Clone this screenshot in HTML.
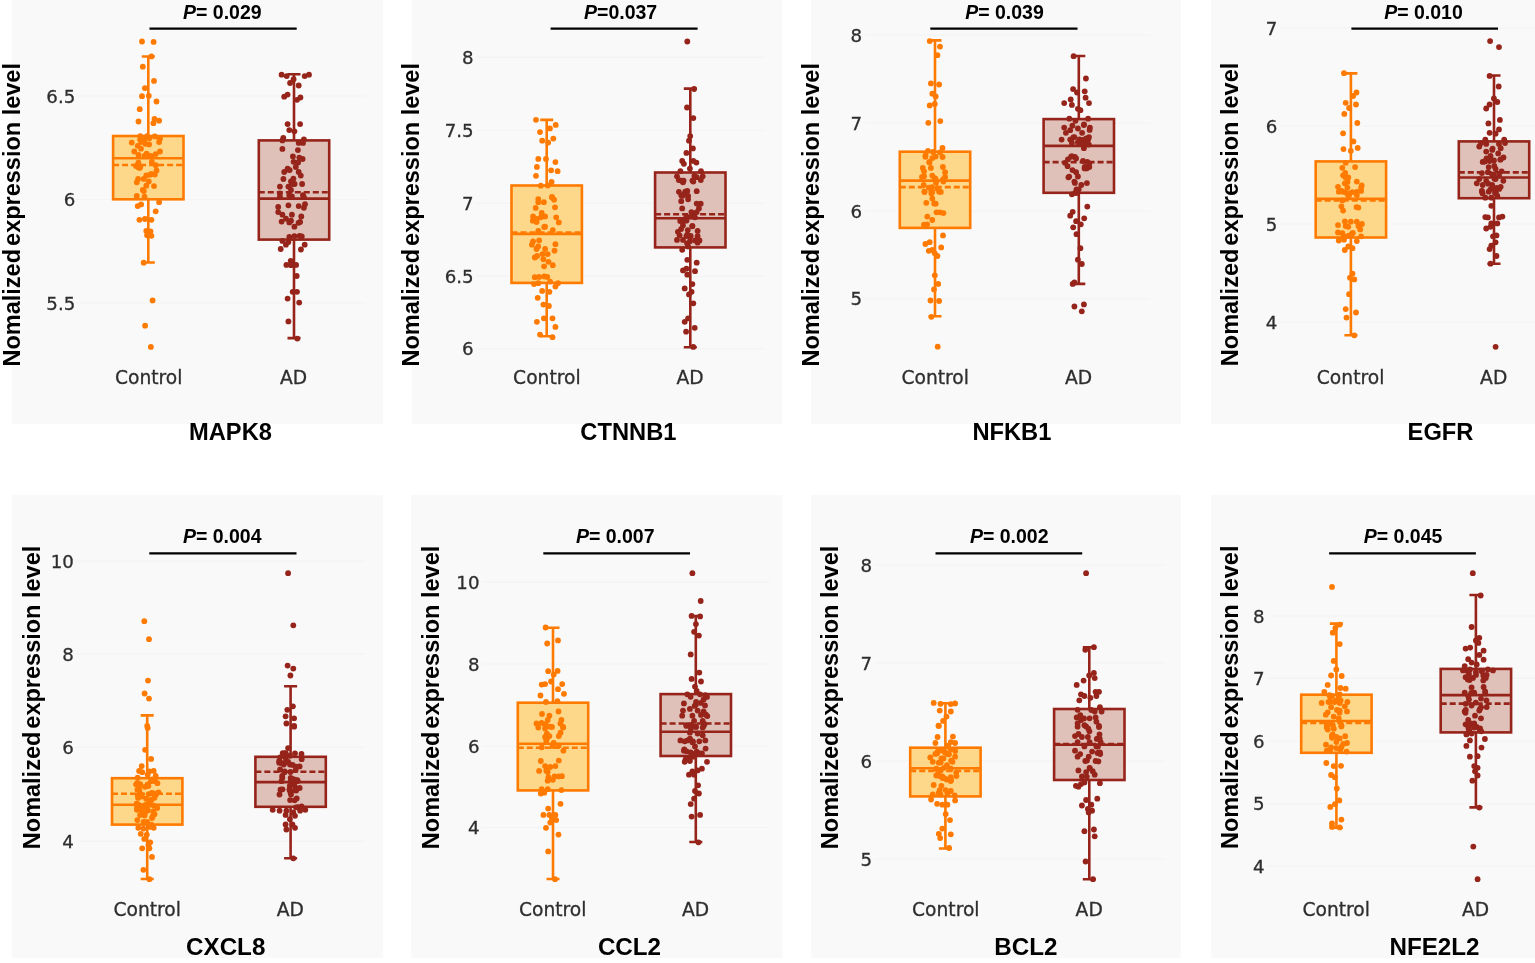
<!DOCTYPE html>
<html lang="en"><head><meta charset="utf-8"><title>Normalized expression level box plots</title>
<style>html,body{margin:0;padding:0;background:#fff}svg{display:block}.t{font-family:"Liberation Sans",Arial,sans-serif;font-weight:bold;fill:#000}.k{font-family:"DejaVu Sans",Verdana,sans-serif;font-size:18.7px;fill:#2e2e2e;stroke:#2e2e2e;stroke-width:.3px}.y{font-size:18.2px}</style></head><body>
<svg width="1535" height="963" viewBox="0 0 1535 963">
<rect width="1535" height="963" fill="#fff"/>
<g>
<rect x="12" y="0" width="371" height="424" fill="#f9f9f9"/>
<line x1="76" x2="366" y1="96.2" y2="96.2" stroke="#f4f4f4" stroke-width="1.2"/>
<line x1="76" x2="366" y1="199.5" y2="199.5" stroke="#f4f4f4" stroke-width="1.2"/>
<line x1="76" x2="366" y1="302.9" y2="302.9" stroke="#f4f4f4" stroke-width="1.2"/>
<text class="k y" x="75.3" y="102.9" text-anchor="end">6.5</text>
<text class="k y" x="75.3" y="206.2" text-anchor="end">6</text>
<text class="k y" x="75.3" y="309.6" text-anchor="end">5.5</text>
<g stroke="#ff7a00" stroke-width="2.6" fill="none">
<path d="M148.3 56.5V136M148.3 199.3V262.5M141.8 56.5H154.8M141.8 262.5H154.8"/>
<rect x="113.1" y="136" width="70.4" height="63.3" fill="#fdd88a"/>
<line x1="113.1" x2="183.5" y1="158.2" y2="158.2"/>
<line x1="113.1" x2="183.5" y1="165" y2="165" stroke-dasharray="6 3"/>
</g>
<g fill="#ff7a00"><circle cx="142" cy="41.5" r="2.9"/><circle cx="153.6" cy="41.9" r="2.9"/><circle cx="151.4" cy="56.4" r="2.9"/><circle cx="142.8" cy="66.7" r="2.9"/><circle cx="154" cy="80.9" r="2.9"/><circle cx="144.9" cy="88.1" r="2.9"/><circle cx="142" cy="96.2" r="2.9"/><circle cx="148.8" cy="95.8" r="2.9"/><circle cx="156.5" cy="101.5" r="2.9"/><circle cx="139.7" cy="109.2" r="2.9"/><circle cx="138.5" cy="121.5" r="2.9"/><circle cx="154.5" cy="118.9" r="2.9"/><circle cx="159.1" cy="120.7" r="2.9"/><circle cx="153.4" cy="123.2" r="2.9"/><circle cx="140.3" cy="136.1" r="2.9"/><circle cx="147.1" cy="136.1" r="2.9"/><circle cx="154.8" cy="136.4" r="2.9"/><circle cx="160" cy="138.6" r="2.9"/><circle cx="131.7" cy="142.6" r="2.9"/><circle cx="141.1" cy="142.1" r="2.9"/><circle cx="145.4" cy="143.8" r="2.9"/><circle cx="159.1" cy="142.1" r="2.9"/><circle cx="134.3" cy="151.5" r="2.9"/><circle cx="160" cy="151.5" r="2.9"/><circle cx="138.5" cy="154.9" r="2.9"/><circle cx="144.5" cy="155.8" r="2.9"/><circle cx="149.7" cy="155.8" r="2.9"/><circle cx="155.7" cy="154.1" r="2.9"/><circle cx="136" cy="166" r="2.9"/><circle cx="140.3" cy="166.9" r="2.9"/><circle cx="155.7" cy="165.2" r="2.9"/><circle cx="146.3" cy="175.5" r="2.9"/><circle cx="154.8" cy="174.6" r="2.9"/><circle cx="143.7" cy="178.9" r="2.9"/><circle cx="136.8" cy="182.3" r="2.9"/><circle cx="148.8" cy="181.5" r="2.9"/><circle cx="146.3" cy="185.7" r="2.9"/><circle cx="154" cy="186.1" r="2.9"/><circle cx="142.8" cy="190" r="2.9"/><circle cx="136.8" cy="196" r="2.9"/><circle cx="144.5" cy="196.7" r="2.9"/><circle cx="159.1" cy="202.2" r="2.9"/><circle cx="137.7" cy="206.1" r="2.9"/><circle cx="141.1" cy="204.4" r="2.9"/><circle cx="155.7" cy="211.3" r="2.9"/><circle cx="139.4" cy="219.8" r="2.9"/><circle cx="144.9" cy="219" r="2.9"/><circle cx="151.4" cy="219.8" r="2.9"/><circle cx="146.3" cy="231" r="2.9"/><circle cx="150.5" cy="231.3" r="2.9"/><circle cx="147.1" cy="235.3" r="2.9"/><circle cx="151.4" cy="235.8" r="2.9"/><circle cx="143.7" cy="262.7" r="2.9"/><circle cx="152.6" cy="300.4" r="2.9"/><circle cx="145.1" cy="325.7" r="2.9"/><circle cx="150.9" cy="346.9" r="2.9"/><circle cx="144.2" cy="140" r="2.9"/><circle cx="151.8" cy="162" r="2.9"/><circle cx="149.1" cy="144.4" r="2.9"/><circle cx="138.1" cy="179" r="2.9"/><circle cx="137.7" cy="145.8" r="2.9"/><circle cx="138.4" cy="162.7" r="2.9"/><circle cx="146.6" cy="153.7" r="2.9"/><circle cx="139.6" cy="167.9" r="2.9"/><circle cx="151.2" cy="156.1" r="2.9"/><circle cx="150.1" cy="174.7" r="2.9"/><circle cx="159.3" cy="137.9" r="2.9"/><circle cx="156.5" cy="170.5" r="2.9"/><circle cx="140.1" cy="139.4" r="2.9"/><circle cx="143.9" cy="191.1" r="2.9"/><circle cx="141" cy="148.7" r="2.9"/><circle cx="151.5" cy="173.8" r="2.9"/><circle cx="149.4" cy="138.3" r="2.9"/><circle cx="138.2" cy="167.3" r="2.9"/></g>
<g stroke="#96241a" stroke-width="2.6" fill="none">
<path d="M294 74.3V140.4M294 239.6V338.1M287.5 74.3H300.5M287.5 338.1H300.5"/>
<rect x="258.8" y="140.4" width="70.4" height="99.2" fill="#dfc1b9"/>
<line x1="258.8" x2="329.2" y1="198.6" y2="198.6"/>
<line x1="258.8" x2="329.2" y1="192.3" y2="192.3" stroke-dasharray="6 3"/>
</g>
<g fill="#96241a"><circle cx="281.6" cy="74.7" r="2.9"/><circle cx="286.7" cy="76.1" r="2.9"/><circle cx="304.7" cy="76.1" r="2.9"/><circle cx="309" cy="74.7" r="2.9"/><circle cx="293.6" cy="79.2" r="2.9"/><circle cx="290.1" cy="83" r="2.9"/><circle cx="298.7" cy="85.5" r="2.9"/><circle cx="284.2" cy="96.7" r="2.9"/><circle cx="287.6" cy="94.6" r="2.9"/><circle cx="297" cy="99.8" r="2.9"/><circle cx="300.4" cy="97.5" r="2.9"/><circle cx="287.6" cy="124.1" r="2.9"/><circle cx="300.1" cy="124.1" r="2.9"/><circle cx="289.3" cy="130.1" r="2.9"/><circle cx="294.4" cy="131.3" r="2.9"/><circle cx="283.3" cy="137.8" r="2.9"/><circle cx="282.4" cy="140.4" r="2.9"/><circle cx="303.9" cy="139.5" r="2.9"/><circle cx="298.7" cy="142.9" r="2.9"/><circle cx="303" cy="142.9" r="2.9"/><circle cx="282.4" cy="148.9" r="2.9"/><circle cx="297.9" cy="150.1" r="2.9"/><circle cx="293.6" cy="161.8" r="2.9"/><circle cx="287.6" cy="168.6" r="2.9"/><circle cx="284.2" cy="172" r="2.9"/><circle cx="298.7" cy="172" r="2.9"/><circle cx="291" cy="181.5" r="2.9"/><circle cx="279.9" cy="186.6" r="2.9"/><circle cx="288.4" cy="186.6" r="2.9"/><circle cx="302.1" cy="184" r="2.9"/><circle cx="291" cy="190" r="2.9"/><circle cx="279.9" cy="193.5" r="2.9"/><circle cx="289.3" cy="195.2" r="2.9"/><circle cx="303" cy="195.2" r="2.9"/><circle cx="279.9" cy="196.7" r="2.9"/><circle cx="291.9" cy="196.4" r="2.9"/><circle cx="303.9" cy="197.1" r="2.9"/><circle cx="278.2" cy="207" r="2.9"/><circle cx="288.4" cy="205.3" r="2.9"/><circle cx="298.7" cy="206.1" r="2.9"/><circle cx="303.9" cy="207.8" r="2.9"/><circle cx="278.2" cy="212.1" r="2.9"/><circle cx="282.4" cy="214.7" r="2.9"/><circle cx="291.9" cy="214.7" r="2.9"/><circle cx="301.3" cy="216.4" r="2.9"/><circle cx="281.6" cy="221.6" r="2.9"/><circle cx="291" cy="220.7" r="2.9"/><circle cx="294.4" cy="226.7" r="2.9"/><circle cx="289.3" cy="222.4" r="2.9"/><circle cx="289.3" cy="237" r="2.9"/><circle cx="294.4" cy="236.1" r="2.9"/><circle cx="299.6" cy="235.8" r="2.9"/><circle cx="282.4" cy="240.9" r="2.9"/><circle cx="288.4" cy="242.1" r="2.9"/><circle cx="285.9" cy="244.7" r="2.9"/><circle cx="304.7" cy="244.7" r="2.9"/><circle cx="280.7" cy="249" r="2.9"/><circle cx="300.9" cy="249.5" r="2.9"/><circle cx="290.7" cy="261" r="2.9"/><circle cx="286.4" cy="264.9" r="2.9"/><circle cx="291" cy="265.2" r="2.9"/><circle cx="296.1" cy="264.9" r="2.9"/><circle cx="296.7" cy="276" r="2.9"/><circle cx="292.7" cy="291.8" r="2.9"/><circle cx="297" cy="291.8" r="2.9"/><circle cx="287.6" cy="298.6" r="2.9"/><circle cx="299.2" cy="302.6" r="2.9"/><circle cx="288.4" cy="321.4" r="2.9"/><circle cx="297.3" cy="338.6" r="2.9"/><circle cx="298.1" cy="162.5" r="2.9"/><circle cx="289.7" cy="170.1" r="2.9"/><circle cx="292.9" cy="156.4" r="2.9"/><circle cx="300.8" cy="175.6" r="2.9"/><circle cx="288.1" cy="169.6" r="2.9"/><circle cx="294.6" cy="184" r="2.9"/><circle cx="299.3" cy="157.6" r="2.9"/><circle cx="305" cy="204.2" r="2.9"/><circle cx="292.1" cy="184" r="2.9"/><circle cx="286" cy="218.7" r="2.9"/><circle cx="283.4" cy="179" r="2.9"/><circle cx="300.1" cy="221.9" r="2.9"/><circle cx="302.6" cy="159" r="2.9"/><circle cx="298.5" cy="222.8" r="2.9"/><circle cx="295.8" cy="167" r="2.9"/><circle cx="301.8" cy="236.4" r="2.9"/><circle cx="293.4" cy="178.7" r="2.9"/></g>
<text class="k" x="148.7" y="383.6" text-anchor="middle">Control</text>
<text class="k" x="293.5" y="383.6" text-anchor="middle">AD</text>
<line x1="149.5" x2="296.7" y1="28.6" y2="28.6" stroke="#000" stroke-width="2.2"/>
<text class="t" font-size="19.5" x="222.3" y="19" text-anchor="middle"><tspan font-style="italic">P</tspan>= 0.029</text>
<text class="t" font-size="23.5" transform="translate(20.2 366.5) rotate(-90)">Nomalized<tspan dx="-3.5"> expression level</tspan></text>
<text class="t" font-size="23.7" x="230.5" y="439.5" text-anchor="middle">MAPK8</text>
</g>
<g>
<rect x="412" y="0" width="370" height="424" fill="#f9f9f9"/>
<line x1="476" x2="765" y1="57.4" y2="57.4" stroke="#f4f4f4" stroke-width="1.2"/>
<line x1="476" x2="765" y1="130.5" y2="130.5" stroke="#f4f4f4" stroke-width="1.2"/>
<line x1="476" x2="765" y1="203.4" y2="203.4" stroke="#f4f4f4" stroke-width="1.2"/>
<line x1="476" x2="765" y1="276.3" y2="276.3" stroke="#f4f4f4" stroke-width="1.2"/>
<line x1="476" x2="765" y1="348.6" y2="348.6" stroke="#f4f4f4" stroke-width="1.2"/>
<text class="k y" x="473.6" y="64.1" text-anchor="end">8</text>
<text class="k y" x="473.6" y="137.2" text-anchor="end">7.5</text>
<text class="k y" x="473.6" y="210.1" text-anchor="end">7</text>
<text class="k y" x="473.6" y="283" text-anchor="end">6.5</text>
<text class="k y" x="473.6" y="355.3" text-anchor="end">6</text>
<g stroke="#ff7a00" stroke-width="2.6" fill="none">
<path d="M546.7 119.9V185.5M546.7 282.9V336.3M540.2 119.9H553.2M540.2 336.3H553.2"/>
<rect x="511.5" y="185.5" width="70.4" height="97.4" fill="#fdd88a"/>
<line x1="511.5" x2="581.9" y1="233.9" y2="233.9"/>
<line x1="511.5" x2="581.9" y1="232.6" y2="232.6" stroke-dasharray="6 3"/>
</g>
<g fill="#ff7a00"><circle cx="536" cy="119.8" r="2.9"/><circle cx="555.7" cy="124.9" r="2.9"/><circle cx="549.9" cy="128.4" r="2.9"/><circle cx="540" cy="132.1" r="2.9"/><circle cx="553.3" cy="138.6" r="2.9"/><circle cx="542.2" cy="140.7" r="2.9"/><circle cx="548.2" cy="142.6" r="2.9"/><circle cx="538.3" cy="158.9" r="2.9"/><circle cx="546" cy="158.9" r="2.9"/><circle cx="555.4" cy="162.1" r="2.9"/><circle cx="536.9" cy="166.9" r="2.9"/><circle cx="551.1" cy="170.3" r="2.9"/><circle cx="557.6" cy="171.2" r="2.9"/><circle cx="536" cy="175.8" r="2.9"/><circle cx="551.6" cy="182" r="2.9"/><circle cx="540.8" cy="185.7" r="2.9"/><circle cx="547.7" cy="185.4" r="2.9"/><circle cx="552" cy="196.9" r="2.9"/><circle cx="538.3" cy="199.1" r="2.9"/><circle cx="552" cy="197.6" r="2.9"/><circle cx="538.3" cy="202.2" r="2.9"/><circle cx="543.9" cy="202.2" r="2.9"/><circle cx="555" cy="207.3" r="2.9"/><circle cx="541.7" cy="213" r="2.9"/><circle cx="545.1" cy="216.4" r="2.9"/><circle cx="533.1" cy="216.4" r="2.9"/><circle cx="532.8" cy="220.7" r="2.9"/><circle cx="540.8" cy="217.3" r="2.9"/><circle cx="556.2" cy="217.3" r="2.9"/><circle cx="558.8" cy="222.4" r="2.9"/><circle cx="545.1" cy="226.7" r="2.9"/><circle cx="538.3" cy="231" r="2.9"/><circle cx="552.8" cy="230.1" r="2.9"/><circle cx="533.1" cy="241.3" r="2.9"/><circle cx="531.9" cy="244.7" r="2.9"/><circle cx="555.4" cy="244.2" r="2.9"/><circle cx="536.5" cy="249" r="2.9"/><circle cx="545.1" cy="249" r="2.9"/><circle cx="554.5" cy="250.7" r="2.9"/><circle cx="542.5" cy="254.1" r="2.9"/><circle cx="547.7" cy="254.1" r="2.9"/><circle cx="534.8" cy="257.5" r="2.9"/><circle cx="543.4" cy="259.2" r="2.9"/><circle cx="548.5" cy="261.8" r="2.9"/><circle cx="552.8" cy="265.2" r="2.9"/><circle cx="534.8" cy="277.2" r="2.9"/><circle cx="539.1" cy="276.9" r="2.9"/><circle cx="544.3" cy="276.4" r="2.9"/><circle cx="547.2" cy="276.9" r="2.9"/><circle cx="534" cy="284.1" r="2.9"/><circle cx="538.3" cy="283.2" r="2.9"/><circle cx="558" cy="283.2" r="2.9"/><circle cx="555.4" cy="286.6" r="2.9"/><circle cx="542.2" cy="290.9" r="2.9"/><circle cx="549.4" cy="291.8" r="2.9"/><circle cx="537.7" cy="297.8" r="2.9"/><circle cx="543.4" cy="304.6" r="2.9"/><circle cx="548.9" cy="306" r="2.9"/><circle cx="543.9" cy="318.3" r="2.9"/><circle cx="552.5" cy="318.3" r="2.9"/><circle cx="536.9" cy="321.8" r="2.9"/><circle cx="555.4" cy="326.9" r="2.9"/><circle cx="540" cy="334.6" r="2.9"/><circle cx="552.5" cy="337.2" r="2.9"/><circle cx="536.6" cy="219" r="2.9"/><circle cx="550.1" cy="281.6" r="2.9"/><circle cx="554.1" cy="199.7" r="2.9"/><circle cx="544.1" cy="266.3" r="2.9"/><circle cx="535.7" cy="207.9" r="2.9"/><circle cx="539.1" cy="240.4" r="2.9"/><circle cx="536.6" cy="222.1" r="2.9"/><circle cx="538.2" cy="246.5" r="2.9"/><circle cx="544.2" cy="226.9" r="2.9"/><circle cx="537.1" cy="256" r="2.9"/></g>
<g stroke="#96241a" stroke-width="2.6" fill="none">
<path d="M690.3 88.6V172.5M690.3 247.4V347.2M683.8 88.6H696.8M683.8 347.2H696.8"/>
<rect x="655.1" y="172.5" width="70.4" height="74.9" fill="#dfc1b9"/>
<line x1="655.1" x2="725.5" y1="218.2" y2="218.2"/>
<line x1="655.1" x2="725.5" y1="214.3" y2="214.3" stroke-dasharray="6 3"/>
</g>
<g fill="#96241a"><circle cx="687.3" cy="41.5" r="2.9"/><circle cx="694.1" cy="89" r="2.9"/><circle cx="687" cy="107.5" r="2.9"/><circle cx="693.3" cy="118.1" r="2.9"/><circle cx="690.2" cy="136.1" r="2.9"/><circle cx="689" cy="140.7" r="2.9"/><circle cx="692.9" cy="148.4" r="2.9"/><circle cx="686.4" cy="152.9" r="2.9"/><circle cx="682.2" cy="160.9" r="2.9"/><circle cx="683.9" cy="163.8" r="2.9"/><circle cx="693.3" cy="160.9" r="2.9"/><circle cx="696.4" cy="162.6" r="2.9"/><circle cx="689.9" cy="168.6" r="2.9"/><circle cx="680.4" cy="171.2" r="2.9"/><circle cx="701" cy="171.2" r="2.9"/><circle cx="677" cy="176.3" r="2.9"/><circle cx="681.3" cy="180.6" r="2.9"/><circle cx="692.4" cy="180.6" r="2.9"/><circle cx="696.7" cy="177.2" r="2.9"/><circle cx="702.7" cy="176.3" r="2.9"/><circle cx="683" cy="182.3" r="2.9"/><circle cx="693.3" cy="181.5" r="2.9"/><circle cx="687.3" cy="190.9" r="2.9"/><circle cx="696.7" cy="191.2" r="2.9"/><circle cx="681.3" cy="195.2" r="2.9"/><circle cx="688.1" cy="196" r="2.9"/><circle cx="682.2" cy="195.9" r="2.9"/><circle cx="688.1" cy="199.3" r="2.9"/><circle cx="696.7" cy="203.6" r="2.9"/><circle cx="682.2" cy="208.4" r="2.9"/><circle cx="696.7" cy="212.1" r="2.9"/><circle cx="686.4" cy="216.4" r="2.9"/><circle cx="691.6" cy="216.4" r="2.9"/><circle cx="695" cy="217.3" r="2.9"/><circle cx="684.7" cy="220.7" r="2.9"/><circle cx="692.4" cy="225.8" r="2.9"/><circle cx="697.6" cy="231" r="2.9"/><circle cx="677.9" cy="231.8" r="2.9"/><circle cx="679.6" cy="235.3" r="2.9"/><circle cx="686.4" cy="236.1" r="2.9"/><circle cx="689.9" cy="237" r="2.9"/><circle cx="697.6" cy="236.1" r="2.9"/><circle cx="677" cy="239.9" r="2.9"/><circle cx="683" cy="239.9" r="2.9"/><circle cx="689.9" cy="241.3" r="2.9"/><circle cx="695" cy="240.4" r="2.9"/><circle cx="688.1" cy="246.4" r="2.9"/><circle cx="682.2" cy="249.8" r="2.9"/><circle cx="687.3" cy="259.8" r="2.9"/><circle cx="696.7" cy="262.7" r="2.9"/><circle cx="683" cy="270.4" r="2.9"/><circle cx="686.4" cy="268.7" r="2.9"/><circle cx="695" cy="271.2" r="2.9"/><circle cx="687.3" cy="274.7" r="2.9"/><circle cx="692.4" cy="284.1" r="2.9"/><circle cx="684.7" cy="288.4" r="2.9"/><circle cx="691.6" cy="291.8" r="2.9"/><circle cx="689" cy="294.4" r="2.9"/><circle cx="693.3" cy="303.3" r="2.9"/><circle cx="688.1" cy="318.3" r="2.9"/><circle cx="684.7" cy="321.8" r="2.9"/><circle cx="694.7" cy="327.8" r="2.9"/><circle cx="686.1" cy="331.7" r="2.9"/><circle cx="693.3" cy="346.9" r="2.9"/><circle cx="691.4" cy="212.1" r="2.9"/><circle cx="697.6" cy="242.7" r="2.9"/><circle cx="685.2" cy="191.6" r="2.9"/><circle cx="687.1" cy="243.3" r="2.9"/><circle cx="700.8" cy="180.1" r="2.9"/><circle cx="682.9" cy="225.5" r="2.9"/><circle cx="684.2" cy="194.7" r="2.9"/><circle cx="692.3" cy="226.3" r="2.9"/><circle cx="678.9" cy="191.8" r="2.9"/><circle cx="687.3" cy="234.6" r="2.9"/><circle cx="700.7" cy="203.7" r="2.9"/><circle cx="690.7" cy="236" r="2.9"/><circle cx="694.4" cy="175.9" r="2.9"/><circle cx="699.5" cy="240.4" r="2.9"/><circle cx="698.9" cy="208.4" r="2.9"/><circle cx="687.8" cy="230.1" r="2.9"/><circle cx="681.2" cy="201.2" r="2.9"/><circle cx="680.2" cy="221" r="2.9"/><circle cx="683.6" cy="180.6" r="2.9"/><circle cx="686.6" cy="220.6" r="2.9"/><circle cx="678.8" cy="180.1" r="2.9"/><circle cx="681.1" cy="229.1" r="2.9"/></g>
<text class="k" x="546.9" y="383.6" text-anchor="middle">Control</text>
<text class="k" x="690" y="383.6" text-anchor="middle">AD</text>
<line x1="550.6" x2="697.6" y1="28.6" y2="28.6" stroke="#000" stroke-width="2.2"/>
<text class="t" font-size="19.5" x="620.6" y="19" text-anchor="middle"><tspan font-style="italic">P</tspan>=0.037</text>
<text class="t" font-size="23.5" transform="translate(418.6 366.5) rotate(-90)">Nomalized<tspan dx="-3.5"> expression level</tspan></text>
<text class="t" font-size="23.7" x="628.4" y="439.5" text-anchor="middle">CTNNB1</text>
</g>
<g>
<rect x="811" y="0" width="370" height="424" fill="#f9f9f9"/>
<line x1="865" x2="1150" y1="35.1" y2="35.1" stroke="#f4f4f4" stroke-width="1.2"/>
<line x1="865" x2="1150" y1="122.8" y2="122.8" stroke="#f4f4f4" stroke-width="1.2"/>
<line x1="865" x2="1150" y1="210.8" y2="210.8" stroke="#f4f4f4" stroke-width="1.2"/>
<line x1="865" x2="1150" y1="298.7" y2="298.7" stroke="#f4f4f4" stroke-width="1.2"/>
<text class="k y" x="862.2" y="41.8" text-anchor="end">8</text>
<text class="k y" x="862.2" y="129.5" text-anchor="end">7</text>
<text class="k y" x="862.2" y="217.5" text-anchor="end">6</text>
<text class="k y" x="862.2" y="305.4" text-anchor="end">5</text>
<g stroke="#ff7a00" stroke-width="2.6" fill="none">
<path d="M935 40.4V151.7M935 227.9V316.2M928.5 40.4H941.5M928.5 316.2H941.5"/>
<rect x="899.8" y="151.7" width="70.4" height="76.2" fill="#fdd88a"/>
<line x1="899.8" x2="970.2" y1="180.6" y2="180.6"/>
<line x1="899.8" x2="970.2" y1="187.1" y2="187.1" stroke-dasharray="6 3"/>
</g>
<g fill="#ff7a00"><circle cx="929.7" cy="41.1" r="2.9"/><circle cx="940" cy="46.6" r="2.9"/><circle cx="937.4" cy="55.2" r="2.9"/><circle cx="930.9" cy="83.4" r="2.9"/><circle cx="939.1" cy="84.5" r="2.9"/><circle cx="932.3" cy="93.7" r="2.9"/><circle cx="935.7" cy="96.5" r="2.9"/><circle cx="929.7" cy="105.4" r="2.9"/><circle cx="934.8" cy="104" r="2.9"/><circle cx="928.3" cy="122.8" r="2.9"/><circle cx="940.3" cy="121.1" r="2.9"/><circle cx="942.5" cy="147.9" r="2.9"/><circle cx="928" cy="150.8" r="2.9"/><circle cx="933.1" cy="152" r="2.9"/><circle cx="940" cy="152.5" r="2.9"/><circle cx="925.4" cy="156.8" r="2.9"/><circle cx="932.3" cy="158.1" r="2.9"/><circle cx="922.8" cy="167.9" r="2.9"/><circle cx="930.9" cy="167.9" r="2.9"/><circle cx="942.9" cy="167" r="2.9"/><circle cx="924" cy="171.3" r="2.9"/><circle cx="945.1" cy="172.2" r="2.9"/><circle cx="922" cy="177" r="2.9"/><circle cx="932.3" cy="175.6" r="2.9"/><circle cx="934.8" cy="178.2" r="2.9"/><circle cx="945.1" cy="177" r="2.9"/><circle cx="943.4" cy="181.6" r="2.9"/><circle cx="923.7" cy="185" r="2.9"/><circle cx="928.8" cy="187.6" r="2.9"/><circle cx="937.4" cy="188.5" r="2.9"/><circle cx="924.5" cy="191.9" r="2.9"/><circle cx="932.3" cy="191.9" r="2.9"/><circle cx="940.8" cy="191.9" r="2.9"/><circle cx="924.5" cy="191.7" r="2.9"/><circle cx="931.4" cy="191.4" r="2.9"/><circle cx="939.1" cy="191.7" r="2.9"/><circle cx="932.3" cy="198.6" r="2.9"/><circle cx="926.3" cy="202.8" r="2.9"/><circle cx="935.7" cy="203.7" r="2.9"/><circle cx="936.5" cy="212.3" r="2.9"/><circle cx="940" cy="212.3" r="2.9"/><circle cx="932.3" cy="220" r="2.9"/><circle cx="927.1" cy="224.3" r="2.9"/><circle cx="943" cy="235.4" r="2.9"/><circle cx="925.4" cy="244" r="2.9"/><circle cx="929.7" cy="242.2" r="2.9"/><circle cx="941.2" cy="247.4" r="2.9"/><circle cx="928.8" cy="250.8" r="2.9"/><circle cx="932.3" cy="250" r="2.9"/><circle cx="934.8" cy="253.4" r="2.9"/><circle cx="937.4" cy="256" r="2.9"/><circle cx="934.8" cy="275.3" r="2.9"/><circle cx="938.2" cy="283.9" r="2.9"/><circle cx="934" cy="289.4" r="2.9"/><circle cx="930.5" cy="300.5" r="2.9"/><circle cx="939.1" cy="301" r="2.9"/><circle cx="931.4" cy="316.8" r="2.9"/><circle cx="937.7" cy="346.7" r="2.9"/><circle cx="924.1" cy="176.2" r="2.9"/><circle cx="937.6" cy="188.3" r="2.9"/><circle cx="929.3" cy="162" r="2.9"/><circle cx="931.9" cy="187.2" r="2.9"/><circle cx="943" cy="179.4" r="2.9"/><circle cx="934.2" cy="203.5" r="2.9"/><circle cx="925.5" cy="155.4" r="2.9"/><circle cx="931.4" cy="193.6" r="2.9"/><circle cx="942.6" cy="157" r="2.9"/><circle cx="924" cy="224.7" r="2.9"/><circle cx="935.6" cy="156.6" r="2.9"/><circle cx="936" cy="182.8" r="2.9"/><circle cx="935.6" cy="179" r="2.9"/><circle cx="943.4" cy="213.1" r="2.9"/><circle cx="929.5" cy="162.6" r="2.9"/><circle cx="927.3" cy="216.6" r="2.9"/></g>
<g stroke="#96241a" stroke-width="2.6" fill="none">
<path d="M1078.8 56V119.1M1078.8 192.8V283.9M1072.3 56H1085.3M1072.3 283.9H1085.3"/>
<rect x="1043.6" y="119.1" width="70.4" height="73.7" fill="#dfc1b9"/>
<line x1="1043.6" x2="1114" y1="145.9" y2="145.9"/>
<line x1="1043.6" x2="1114" y1="162.1" y2="162.1" stroke-dasharray="6 3"/>
</g>
<g fill="#96241a"><circle cx="1073.6" cy="56.2" r="2.9"/><circle cx="1085.9" cy="78.5" r="2.9"/><circle cx="1073.1" cy="89.1" r="2.9"/><circle cx="1077" cy="92.5" r="2.9"/><circle cx="1084.7" cy="91.3" r="2.9"/><circle cx="1070.7" cy="99.4" r="2.9"/><circle cx="1085.6" cy="97.7" r="2.9"/><circle cx="1064.2" cy="103.1" r="2.9"/><circle cx="1071.9" cy="104.9" r="2.9"/><circle cx="1089" cy="103.1" r="2.9"/><circle cx="1077.9" cy="108.8" r="2.9"/><circle cx="1080.4" cy="110.2" r="2.9"/><circle cx="1069.3" cy="118.7" r="2.9"/><circle cx="1088.1" cy="118.7" r="2.9"/><circle cx="1064.2" cy="127.6" r="2.9"/><circle cx="1070.2" cy="130.2" r="2.9"/><circle cx="1077.9" cy="128.5" r="2.9"/><circle cx="1083.9" cy="125.1" r="2.9"/><circle cx="1089.9" cy="127.6" r="2.9"/><circle cx="1065.9" cy="132.8" r="2.9"/><circle cx="1082.1" cy="132.8" r="2.9"/><circle cx="1061.6" cy="139.6" r="2.9"/><circle cx="1070.2" cy="139.6" r="2.9"/><circle cx="1074.4" cy="137.1" r="2.9"/><circle cx="1089" cy="137.1" r="2.9"/><circle cx="1071.9" cy="143.1" r="2.9"/><circle cx="1077.9" cy="142.2" r="2.9"/><circle cx="1087.3" cy="143.1" r="2.9"/><circle cx="1083.9" cy="148.2" r="2.9"/><circle cx="1071" cy="156.8" r="2.9"/><circle cx="1076.1" cy="158.5" r="2.9"/><circle cx="1083" cy="161" r="2.9"/><circle cx="1065" cy="162.8" r="2.9"/><circle cx="1067.6" cy="166.2" r="2.9"/><circle cx="1087.3" cy="161.9" r="2.9"/><circle cx="1084.7" cy="167" r="2.9"/><circle cx="1076.1" cy="172.2" r="2.9"/><circle cx="1068.4" cy="177.3" r="2.9"/><circle cx="1077.9" cy="176.5" r="2.9"/><circle cx="1074.4" cy="181.6" r="2.9"/><circle cx="1081.3" cy="185" r="2.9"/><circle cx="1078.7" cy="189.3" r="2.9"/><circle cx="1075.3" cy="192.7" r="2.9"/><circle cx="1071.9" cy="194.3" r="2.9"/><circle cx="1076.1" cy="193.1" r="2.9"/><circle cx="1087.3" cy="206.6" r="2.9"/><circle cx="1072.7" cy="211.8" r="2.9"/><circle cx="1070.2" cy="215.7" r="2.9"/><circle cx="1084.2" cy="218.3" r="2.9"/><circle cx="1076.1" cy="221.2" r="2.9"/><circle cx="1080.8" cy="224.3" r="2.9"/><circle cx="1073.2" cy="227.3" r="2.9"/><circle cx="1076.5" cy="234.2" r="2.9"/><circle cx="1080.4" cy="248.2" r="2.9"/><circle cx="1077.9" cy="259.7" r="2.9"/><circle cx="1081.8" cy="264" r="2.9"/><circle cx="1074.4" cy="282.5" r="2.9"/><circle cx="1072.7" cy="283.9" r="2.9"/><circle cx="1074.4" cy="306.5" r="2.9"/><circle cx="1083.9" cy="304.4" r="2.9"/><circle cx="1081.8" cy="311.3" r="2.9"/><circle cx="1079.5" cy="139.4" r="2.9"/><circle cx="1074.9" cy="156.9" r="2.9"/><circle cx="1086" cy="144.5" r="2.9"/><circle cx="1086.9" cy="183.1" r="2.9"/><circle cx="1086.1" cy="138.4" r="2.9"/><circle cx="1072.5" cy="170.1" r="2.9"/><circle cx="1075.5" cy="120.8" r="2.9"/><circle cx="1067.9" cy="159.4" r="2.9"/><circle cx="1073.3" cy="137.3" r="2.9"/><circle cx="1089.3" cy="167" r="2.9"/><circle cx="1088.9" cy="144.6" r="2.9"/><circle cx="1089.3" cy="163.3" r="2.9"/><circle cx="1072.4" cy="125.7" r="2.9"/><circle cx="1071.8" cy="156.1" r="2.9"/><circle cx="1081.7" cy="142.4" r="2.9"/><circle cx="1086.6" cy="168.4" r="2.9"/><circle cx="1082.3" cy="139.9" r="2.9"/><circle cx="1069.2" cy="176.6" r="2.9"/><circle cx="1088.2" cy="139.5" r="2.9"/><circle cx="1084.6" cy="168.4" r="2.9"/><circle cx="1071.4" cy="139.7" r="2.9"/><circle cx="1074.9" cy="182.9" r="2.9"/><circle cx="1089.6" cy="129.9" r="2.9"/><circle cx="1076.5" cy="189.4" r="2.9"/><circle cx="1084" cy="124.3" r="2.9"/></g>
<text class="k" x="935.2" y="383.6" text-anchor="middle">Control</text>
<text class="k" x="1078.5" y="383.6" text-anchor="middle">AD</text>
<line x1="930.3" x2="1077.5" y1="28.6" y2="28.6" stroke="#000" stroke-width="2.2"/>
<text class="t" font-size="19.5" x="1004.5" y="19" text-anchor="middle"><tspan font-style="italic">P</tspan>= 0.039</text>
<text class="t" font-size="23.5" transform="translate(818.7 366.5) rotate(-90)">Nomalized<tspan dx="-3.5"> expression level</tspan></text>
<text class="t" font-size="23.7" x="1011.9" y="439.5" text-anchor="middle">NFKB1</text>
</g>
<g>
<rect x="1211" y="0" width="324" height="424" fill="#f9f9f9"/>
<line x1="1280" x2="1535" y1="28.1" y2="28.1" stroke="#f4f4f4" stroke-width="1.2"/>
<line x1="1280" x2="1535" y1="126.1" y2="126.1" stroke="#f4f4f4" stroke-width="1.2"/>
<line x1="1280" x2="1535" y1="224.2" y2="224.2" stroke="#f4f4f4" stroke-width="1.2"/>
<line x1="1280" x2="1535" y1="322.1" y2="322.1" stroke="#f4f4f4" stroke-width="1.2"/>
<text class="k y" x="1277.3" y="34.8" text-anchor="end">7</text>
<text class="k y" x="1277.3" y="132.8" text-anchor="end">6</text>
<text class="k y" x="1277.3" y="230.9" text-anchor="end">5</text>
<text class="k y" x="1277.3" y="328.8" text-anchor="end">4</text>
<g stroke="#ff7a00" stroke-width="2.6" fill="none">
<path d="M1350.9 73.4V161.4M1350.9 237.5V335.3M1344.4 73.4H1357.4M1344.4 335.3H1357.4"/>
<rect x="1315.7" y="161.4" width="70.4" height="76.1" fill="#fdd88a"/>
<line x1="1315.7" x2="1386.1" y1="198.9" y2="198.9"/>
<line x1="1315.7" x2="1386.1" y1="200.5" y2="200.5" stroke-dasharray="6 3"/>
</g>
<g fill="#ff7a00"><circle cx="1344" cy="73.2" r="2.9"/><circle cx="1356.5" cy="92.5" r="2.9"/><circle cx="1353.1" cy="96" r="2.9"/><circle cx="1345.7" cy="102.8" r="2.9"/><circle cx="1356" cy="104.5" r="2.9"/><circle cx="1349.1" cy="108" r="2.9"/><circle cx="1344.3" cy="113.9" r="2.9"/><circle cx="1357.3" cy="123" r="2.9"/><circle cx="1343.1" cy="133.3" r="2.9"/><circle cx="1353.4" cy="141.4" r="2.9"/><circle cx="1343.5" cy="149.1" r="2.9"/><circle cx="1350.8" cy="150.8" r="2.9"/><circle cx="1357.7" cy="147.9" r="2.9"/><circle cx="1345.7" cy="162.8" r="2.9"/><circle cx="1355.1" cy="167.1" r="2.9"/><circle cx="1343.1" cy="175.3" r="2.9"/><circle cx="1348.3" cy="177.3" r="2.9"/><circle cx="1356.8" cy="181.6" r="2.9"/><circle cx="1344.8" cy="183.3" r="2.9"/><circle cx="1338" cy="186.8" r="2.9"/><circle cx="1347.4" cy="187.6" r="2.9"/><circle cx="1361.1" cy="187.6" r="2.9"/><circle cx="1341.4" cy="191" r="2.9"/><circle cx="1356.8" cy="191.9" r="2.9"/><circle cx="1338.8" cy="191.7" r="2.9"/><circle cx="1345.7" cy="192.6" r="2.9"/><circle cx="1352.5" cy="192.1" r="2.9"/><circle cx="1361.1" cy="190.9" r="2.9"/><circle cx="1348.3" cy="196" r="2.9"/><circle cx="1356.8" cy="195.1" r="2.9"/><circle cx="1341.4" cy="206.3" r="2.9"/><circle cx="1343.1" cy="210.6" r="2.9"/><circle cx="1356.5" cy="207.1" r="2.9"/><circle cx="1338" cy="225.1" r="2.9"/><circle cx="1345.7" cy="226" r="2.9"/><circle cx="1350.8" cy="221.7" r="2.9"/><circle cx="1356.8" cy="221.7" r="2.9"/><circle cx="1348.3" cy="226.8" r="2.9"/><circle cx="1358.5" cy="226" r="2.9"/><circle cx="1338" cy="232.5" r="2.9"/><circle cx="1344" cy="236.3" r="2.9"/><circle cx="1348.3" cy="235.9" r="2.9"/><circle cx="1361.1" cy="236.3" r="2.9"/><circle cx="1338.8" cy="240.5" r="2.9"/><circle cx="1344" cy="239.7" r="2.9"/><circle cx="1356.8" cy="241.1" r="2.9"/><circle cx="1344.8" cy="250" r="2.9"/><circle cx="1348.3" cy="246.5" r="2.9"/><circle cx="1352.5" cy="248.2" r="2.9"/><circle cx="1352.5" cy="273.6" r="2.9"/><circle cx="1350" cy="277.7" r="2.9"/><circle cx="1354.3" cy="279.4" r="2.9"/><circle cx="1349.1" cy="294.2" r="2.9"/><circle cx="1345.7" cy="309.1" r="2.9"/><circle cx="1356" cy="312.5" r="2.9"/><circle cx="1346.5" cy="317.6" r="2.9"/><circle cx="1354.3" cy="335.3" r="2.9"/><circle cx="1342.3" cy="167.8" r="2.9"/><circle cx="1360.2" cy="229.4" r="2.9"/><circle cx="1342.8" cy="191.7" r="2.9"/><circle cx="1361.9" cy="224" r="2.9"/><circle cx="1347.5" cy="181.9" r="2.9"/><circle cx="1342.4" cy="200.4" r="2.9"/><circle cx="1361.7" cy="185.5" r="2.9"/><circle cx="1351.5" cy="234.1" r="2.9"/><circle cx="1349.4" cy="193.3" r="2.9"/><circle cx="1358.4" cy="207.6" r="2.9"/><circle cx="1345.2" cy="172.8" r="2.9"/><circle cx="1344.9" cy="221.4" r="2.9"/><circle cx="1345.4" cy="177.3" r="2.9"/><circle cx="1342.4" cy="233.2" r="2.9"/><circle cx="1347.5" cy="178.7" r="2.9"/><circle cx="1352.8" cy="233" r="2.9"/><circle cx="1349.1" cy="195" r="2.9"/></g>
<g stroke="#96241a" stroke-width="2.6" fill="none">
<path d="M1494 75.5V141.4M1494 198.2V263.8M1487.5 75.5H1500.5M1487.5 263.8H1500.5"/>
<rect x="1458.8" y="141.4" width="70.4" height="56.8" fill="#dfc1b9"/>
<line x1="1458.8" x2="1529.2" y1="177.5" y2="177.5"/>
<line x1="1458.8" x2="1529.2" y1="172.4" y2="172.4" stroke-dasharray="6 3"/>
</g>
<g fill="#96241a"><circle cx="1490.1" cy="41.1" r="2.9"/><circle cx="1499" cy="47.1" r="2.9"/><circle cx="1489.6" cy="75.9" r="2.9"/><circle cx="1498.7" cy="86.5" r="2.9"/><circle cx="1493.9" cy="98.5" r="2.9"/><circle cx="1497.3" cy="102" r="2.9"/><circle cx="1489.6" cy="104.5" r="2.9"/><circle cx="1486.2" cy="108.5" r="2.9"/><circle cx="1499.9" cy="119.9" r="2.9"/><circle cx="1488.4" cy="123.4" r="2.9"/><circle cx="1499" cy="129.4" r="2.9"/><circle cx="1489.6" cy="132.8" r="2.9"/><circle cx="1495.6" cy="133.7" r="2.9"/><circle cx="1485.3" cy="139.6" r="2.9"/><circle cx="1504.2" cy="139.6" r="2.9"/><circle cx="1481" cy="143.1" r="2.9"/><circle cx="1486.2" cy="143.9" r="2.9"/><circle cx="1499" cy="143.9" r="2.9"/><circle cx="1505" cy="143.1" r="2.9"/><circle cx="1479.3" cy="146.5" r="2.9"/><circle cx="1500.7" cy="148.2" r="2.9"/><circle cx="1486.2" cy="151.6" r="2.9"/><circle cx="1492.2" cy="149.9" r="2.9"/><circle cx="1498.2" cy="153.4" r="2.9"/><circle cx="1490.5" cy="155.9" r="2.9"/><circle cx="1500.7" cy="159.3" r="2.9"/><circle cx="1482.7" cy="161.9" r="2.9"/><circle cx="1489.6" cy="161.1" r="2.9"/><circle cx="1488.7" cy="167.1" r="2.9"/><circle cx="1495.6" cy="168.8" r="2.9"/><circle cx="1481.9" cy="173.1" r="2.9"/><circle cx="1487.9" cy="172.2" r="2.9"/><circle cx="1501.6" cy="171.3" r="2.9"/><circle cx="1492.2" cy="174.8" r="2.9"/><circle cx="1499" cy="175.6" r="2.9"/><circle cx="1479.3" cy="179.1" r="2.9"/><circle cx="1486.2" cy="180.8" r="2.9"/><circle cx="1495.6" cy="179.1" r="2.9"/><circle cx="1503.3" cy="180.8" r="2.9"/><circle cx="1476.8" cy="183.3" r="2.9"/><circle cx="1482.7" cy="185" r="2.9"/><circle cx="1492.2" cy="185" r="2.9"/><circle cx="1500.7" cy="186.8" r="2.9"/><circle cx="1490.5" cy="189.3" r="2.9"/><circle cx="1481.9" cy="191" r="2.9"/><circle cx="1495.6" cy="192.8" r="2.9"/><circle cx="1481.9" cy="191.4" r="2.9"/><circle cx="1488.7" cy="191.7" r="2.9"/><circle cx="1495.6" cy="192.6" r="2.9"/><circle cx="1485.3" cy="197.7" r="2.9"/><circle cx="1491.3" cy="197.7" r="2.9"/><circle cx="1497.3" cy="196" r="2.9"/><circle cx="1491.3" cy="205.8" r="2.9"/><circle cx="1485.3" cy="217.1" r="2.9"/><circle cx="1487.9" cy="217.4" r="2.9"/><circle cx="1499" cy="217.4" r="2.9"/><circle cx="1502.4" cy="216.6" r="2.9"/><circle cx="1491.3" cy="223.4" r="2.9"/><circle cx="1497.3" cy="223.4" r="2.9"/><circle cx="1486.2" cy="228.5" r="2.9"/><circle cx="1490.5" cy="226.8" r="2.9"/><circle cx="1496.5" cy="235.4" r="2.9"/><circle cx="1493" cy="236.3" r="2.9"/><circle cx="1495.6" cy="242.3" r="2.9"/><circle cx="1491.3" cy="245.7" r="2.9"/><circle cx="1489.6" cy="249.1" r="2.9"/><circle cx="1496.5" cy="256" r="2.9"/><circle cx="1490.5" cy="263.7" r="2.9"/><circle cx="1495.6" cy="346.8" r="2.9"/><circle cx="1494" cy="160.5" r="2.9"/><circle cx="1494.5" cy="178.8" r="2.9"/><circle cx="1492.6" cy="148.6" r="2.9"/><circle cx="1482.6" cy="193.4" r="2.9"/><circle cx="1486.5" cy="158.5" r="2.9"/><circle cx="1499.2" cy="188.9" r="2.9"/><circle cx="1490" cy="160.1" r="2.9"/><circle cx="1495.3" cy="193.2" r="2.9"/><circle cx="1484.9" cy="161.5" r="2.9"/><circle cx="1488.2" cy="183.7" r="2.9"/><circle cx="1500.3" cy="159.7" r="2.9"/><circle cx="1495.4" cy="192.7" r="2.9"/><circle cx="1503.5" cy="157.5" r="2.9"/><circle cx="1496.6" cy="188" r="2.9"/><circle cx="1494.3" cy="166" r="2.9"/><circle cx="1492.9" cy="188.5" r="2.9"/><circle cx="1493.5" cy="174.5" r="2.9"/></g>
<text class="k" x="1350.6" y="383.6" text-anchor="middle">Control</text>
<text class="k" x="1493.7" y="383.6" text-anchor="middle">AD</text>
<line x1="1351.4" x2="1498" y1="28.6" y2="28.6" stroke="#000" stroke-width="2.2"/>
<text class="t" font-size="19.5" x="1423.5" y="19" text-anchor="middle"><tspan font-style="italic">P</tspan>= 0.010</text>
<text class="t" font-size="23.5" transform="translate(1238 366.2) rotate(-90)">Nomalized<tspan dx="-3.5"> expression level</tspan></text>
<text class="t" font-size="23.7" x="1440.5" y="439.5" text-anchor="middle">EGFR</text>
</g>
<g>
<rect x="12" y="495" width="371" height="463" fill="#f9f9f9"/>
<line x1="76" x2="365" y1="560.8" y2="560.8" stroke="#f4f4f4" stroke-width="1.2"/>
<line x1="76" x2="365" y1="653.8" y2="653.8" stroke="#f4f4f4" stroke-width="1.2"/>
<line x1="76" x2="365" y1="747.4" y2="747.4" stroke="#f4f4f4" stroke-width="1.2"/>
<line x1="76" x2="365" y1="841.3" y2="841.3" stroke="#f4f4f4" stroke-width="1.2"/>
<text class="k y" x="73.9" y="567.5" text-anchor="end">10</text>
<text class="k y" x="73.9" y="660.5" text-anchor="end">8</text>
<text class="k y" x="73.9" y="754.1" text-anchor="end">6</text>
<text class="k y" x="73.9" y="848" text-anchor="end">4</text>
<g stroke="#ff7a00" stroke-width="2.6" fill="none">
<path d="M147.2 715.4V778.2M147.2 824.6V879M140.7 715.4H153.7M140.7 879H153.7"/>
<rect x="112" y="778.2" width="70.4" height="46.4" fill="#fdd88a"/>
<line x1="112" x2="182.4" y1="804.8" y2="804.8"/>
<line x1="112" x2="182.4" y1="793.8" y2="793.8" stroke-dasharray="6 3"/>
</g>
<g fill="#ff7a00"><circle cx="144.3" cy="621.2" r="2.9"/><circle cx="149" cy="639.2" r="2.9"/><circle cx="148" cy="680.6" r="2.9"/><circle cx="144.6" cy="693.5" r="2.9"/><circle cx="149" cy="698.6" r="2.9"/><circle cx="147.2" cy="726" r="2.9"/><circle cx="147.7" cy="728.1" r="2.9"/><circle cx="145.1" cy="749.8" r="2.9"/><circle cx="151.1" cy="758.9" r="2.9"/><circle cx="141.7" cy="766.1" r="2.9"/><circle cx="139.1" cy="770.9" r="2.9"/><circle cx="149.4" cy="771.3" r="2.9"/><circle cx="153.7" cy="770.9" r="2.9"/><circle cx="147.7" cy="774.7" r="2.9"/><circle cx="138.3" cy="827.8" r="2.9"/><circle cx="143.4" cy="828.6" r="2.9"/><circle cx="149.4" cy="826.9" r="2.9"/><circle cx="153.7" cy="827.8" r="2.9"/><circle cx="140.8" cy="833.8" r="2.9"/><circle cx="146.8" cy="834.6" r="2.9"/><circle cx="144.3" cy="838.9" r="2.9"/><circle cx="150.2" cy="842.3" r="2.9"/><circle cx="148.5" cy="844.9" r="2.9"/><circle cx="142.2" cy="848.3" r="2.9"/><circle cx="149.4" cy="848.3" r="2.9"/><circle cx="152" cy="856.9" r="2.9"/><circle cx="143.4" cy="869.8" r="2.9"/><circle cx="149.4" cy="879.2" r="2.9"/><circle cx="151.8" cy="793" r="2.9"/><circle cx="157.4" cy="783.2" r="2.9"/><circle cx="148.6" cy="794.1" r="2.9"/><circle cx="155" cy="781.2" r="2.9"/><circle cx="138.5" cy="786.1" r="2.9"/><circle cx="137.4" cy="782.9" r="2.9"/><circle cx="137.4" cy="789.7" r="2.9"/><circle cx="153.7" cy="793.4" r="2.9"/><circle cx="139.3" cy="790.5" r="2.9"/><circle cx="150.9" cy="781.3" r="2.9"/><circle cx="156" cy="794.5" r="2.9"/><circle cx="140.8" cy="794.2" r="2.9"/><circle cx="144.9" cy="786.8" r="2.9"/><circle cx="158.5" cy="792.3" r="2.9"/><circle cx="139.4" cy="785.9" r="2.9"/><circle cx="147.6" cy="784.4" r="2.9"/><circle cx="140.2" cy="784.1" r="2.9"/><circle cx="152.3" cy="779.3" r="2.9"/><circle cx="148.4" cy="786" r="2.9"/><circle cx="136.1" cy="784.3" r="2.9"/><circle cx="150.1" cy="800.6" r="2.9"/><circle cx="137.2" cy="805.8" r="2.9"/><circle cx="153.8" cy="805.7" r="2.9"/><circle cx="138.1" cy="797.9" r="2.9"/><circle cx="136.6" cy="803.6" r="2.9"/><circle cx="141.9" cy="796.4" r="2.9"/><circle cx="145.4" cy="805" r="2.9"/><circle cx="154.5" cy="797.8" r="2.9"/><circle cx="139.1" cy="805.1" r="2.9"/><circle cx="148.8" cy="802.7" r="2.9"/><circle cx="137.8" cy="795.6" r="2.9"/><circle cx="151.5" cy="799.7" r="2.9"/><circle cx="137.4" cy="805.3" r="2.9"/><circle cx="150.3" cy="803.8" r="2.9"/><circle cx="137.6" cy="804.4" r="2.9"/><circle cx="137.2" cy="804.5" r="2.9"/><circle cx="146.1" cy="798.7" r="2.9"/><circle cx="148.4" cy="805.2" r="2.9"/><circle cx="141.9" cy="808.5" r="2.9"/><circle cx="147.8" cy="810.5" r="2.9"/><circle cx="138.2" cy="809.1" r="2.9"/><circle cx="136.9" cy="809.8" r="2.9"/><circle cx="142.9" cy="811.8" r="2.9"/><circle cx="153.2" cy="811.5" r="2.9"/><circle cx="147.2" cy="809.4" r="2.9"/><circle cx="143.7" cy="806.3" r="2.9"/><circle cx="141.5" cy="806.3" r="2.9"/><circle cx="152.6" cy="816.5" r="2.9"/><circle cx="140.1" cy="815" r="2.9"/><circle cx="157.2" cy="808" r="2.9"/><circle cx="154.5" cy="814.2" r="2.9"/><circle cx="147.1" cy="821.9" r="2.9"/><circle cx="144.7" cy="815.6" r="2.9"/><circle cx="151.5" cy="824.7" r="2.9"/><circle cx="143.6" cy="821.8" r="2.9"/><circle cx="152" cy="818.1" r="2.9"/><circle cx="145" cy="812.6" r="2.9"/><circle cx="137" cy="808.5" r="2.9"/><circle cx="137.3" cy="820.1" r="2.9"/><circle cx="141.6" cy="809.1" r="2.9"/><circle cx="137.6" cy="777.6" r="2.9"/><circle cx="155.7" cy="776" r="2.9"/><circle cx="142.2" cy="772.2" r="2.9"/></g>
<g stroke="#96241a" stroke-width="2.6" fill="none">
<path d="M290.6 686.3V756.8M290.6 806.8V858.2M284.1 686.3H297.1M284.1 858.2H297.1"/>
<rect x="255.4" y="756.8" width="70.4" height="50" fill="#dfc1b9"/>
<line x1="255.4" x2="325.8" y1="782.1" y2="782.1"/>
<line x1="255.4" x2="325.8" y1="771.7" y2="771.7" stroke-dasharray="6 3"/>
</g>
<g fill="#96241a"><circle cx="288.1" cy="573.2" r="2.9"/><circle cx="293.3" cy="625.3" r="2.9"/><circle cx="287.6" cy="665.6" r="2.9"/><circle cx="293.3" cy="668.6" r="2.9"/><circle cx="290.4" cy="675.5" r="2.9"/><circle cx="292.9" cy="706.3" r="2.9"/><circle cx="287.3" cy="709.8" r="2.9"/><circle cx="285.6" cy="716.3" r="2.9"/><circle cx="294.1" cy="718.3" r="2.9"/><circle cx="286.4" cy="723.5" r="2.9"/><circle cx="294.1" cy="726" r="2.9"/><circle cx="294.1" cy="726.7" r="2.9"/><circle cx="288.1" cy="748.1" r="2.9"/><circle cx="284.7" cy="753.3" r="2.9"/><circle cx="295" cy="753.3" r="2.9"/><circle cx="289.9" cy="755.8" r="2.9"/><circle cx="272.7" cy="809.8" r="2.9"/><circle cx="279.6" cy="810.7" r="2.9"/><circle cx="286.4" cy="810.7" r="2.9"/><circle cx="293.3" cy="812.4" r="2.9"/><circle cx="300.1" cy="810.7" r="2.9"/><circle cx="305.3" cy="809.8" r="2.9"/><circle cx="285.6" cy="814.9" r="2.9"/><circle cx="295" cy="815.8" r="2.9"/><circle cx="289.9" cy="819.2" r="2.9"/><circle cx="285.6" cy="824.4" r="2.9"/><circle cx="292.4" cy="824.4" r="2.9"/><circle cx="286.4" cy="829.5" r="2.9"/><circle cx="295" cy="827.8" r="2.9"/><circle cx="293.3" cy="858.3" r="2.9"/><circle cx="285.8" cy="753.2" r="2.9"/><circle cx="282.7" cy="753.1" r="2.9"/><circle cx="285.2" cy="756.7" r="2.9"/><circle cx="301.5" cy="753.8" r="2.9"/><circle cx="284.7" cy="771.5" r="2.9"/><circle cx="286.2" cy="762.3" r="2.9"/><circle cx="279.1" cy="762.7" r="2.9"/><circle cx="290" cy="764.5" r="2.9"/><circle cx="283.7" cy="764.6" r="2.9"/><circle cx="279.2" cy="761" r="2.9"/><circle cx="281.2" cy="763" r="2.9"/><circle cx="280.1" cy="757.3" r="2.9"/><circle cx="286.1" cy="760.5" r="2.9"/><circle cx="292.6" cy="764.9" r="2.9"/><circle cx="296.4" cy="766.9" r="2.9"/><circle cx="295.6" cy="770.2" r="2.9"/><circle cx="288.1" cy="761.9" r="2.9"/><circle cx="301.7" cy="759.2" r="2.9"/><circle cx="295.8" cy="766.6" r="2.9"/><circle cx="280.1" cy="769.5" r="2.9"/><circle cx="299.6" cy="766.4" r="2.9"/><circle cx="296" cy="780.9" r="2.9"/><circle cx="282.3" cy="777.8" r="2.9"/><circle cx="290.7" cy="781.2" r="2.9"/><circle cx="297.6" cy="781.1" r="2.9"/><circle cx="292.5" cy="781.8" r="2.9"/><circle cx="294.8" cy="779.6" r="2.9"/><circle cx="284.4" cy="772.3" r="2.9"/><circle cx="282.2" cy="776" r="2.9"/><circle cx="281.5" cy="781.2" r="2.9"/><circle cx="291.9" cy="778.9" r="2.9"/><circle cx="293.5" cy="779.5" r="2.9"/><circle cx="290.4" cy="772" r="2.9"/><circle cx="297.4" cy="780.2" r="2.9"/><circle cx="290.7" cy="777.9" r="2.9"/><circle cx="294.3" cy="784.7" r="2.9"/><circle cx="296" cy="789.3" r="2.9"/><circle cx="280.8" cy="789.6" r="2.9"/><circle cx="295.9" cy="788.1" r="2.9"/><circle cx="296.1" cy="807.4" r="2.9"/><circle cx="290.5" cy="792.6" r="2.9"/><circle cx="290.1" cy="800.1" r="2.9"/><circle cx="296.7" cy="798.4" r="2.9"/><circle cx="293.9" cy="784.9" r="2.9"/><circle cx="282.5" cy="789.3" r="2.9"/><circle cx="296.2" cy="790.6" r="2.9"/><circle cx="292.2" cy="783.3" r="2.9"/><circle cx="280.5" cy="789.7" r="2.9"/><circle cx="294.6" cy="800.3" r="2.9"/><circle cx="294.6" cy="790.3" r="2.9"/><circle cx="291" cy="794.6" r="2.9"/><circle cx="289.8" cy="786" r="2.9"/><circle cx="299.7" cy="788" r="2.9"/><circle cx="301.6" cy="806.4" r="2.9"/><circle cx="279.5" cy="794.5" r="2.9"/><circle cx="298" cy="807.2" r="2.9"/><circle cx="289.4" cy="789.7" r="2.9"/></g>
<text class="k" x="147.2" y="915.8" text-anchor="middle">Control</text>
<text class="k" x="290.3" y="915.8" text-anchor="middle">AD</text>
<line x1="149.3" x2="296.5" y1="553.4" y2="553.4" stroke="#000" stroke-width="2.2"/>
<text class="t" font-size="19.5" x="222.2" y="543" text-anchor="middle"><tspan font-style="italic">P</tspan>= 0.004</text>
<text class="t" font-size="23.5" transform="translate(40 849.2) rotate(-90)">Nomalized<tspan dx="-3.5"> expression level</tspan></text>
<text class="t" font-size="24.2" x="225.7" y="955.2" text-anchor="middle">CXCL8</text>
</g>
<g>
<rect x="411" y="495" width="371.6" height="463" fill="#f9f9f9"/>
<line x1="482" x2="770" y1="582.3" y2="582.3" stroke="#f4f4f4" stroke-width="1.2"/>
<line x1="482" x2="770" y1="664.1" y2="664.1" stroke="#f4f4f4" stroke-width="1.2"/>
<line x1="482" x2="770" y1="746.1" y2="746.1" stroke="#f4f4f4" stroke-width="1.2"/>
<line x1="482" x2="770" y1="827.5" y2="827.5" stroke="#f4f4f4" stroke-width="1.2"/>
<text class="k y" x="479.5" y="589" text-anchor="end">10</text>
<text class="k y" x="479.5" y="670.8" text-anchor="end">8</text>
<text class="k y" x="479.5" y="752.8" text-anchor="end">6</text>
<text class="k y" x="479.5" y="834.2" text-anchor="end">4</text>
<g stroke="#ff7a00" stroke-width="2.6" fill="none">
<path d="M553 627.7V702.7M553 790.4V879M546.5 627.7H559.5M546.5 879H559.5"/>
<rect x="517.8" y="702.7" width="70.4" height="87.7" fill="#fdd88a"/>
<line x1="517.8" x2="588.2" y1="743.8" y2="743.8"/>
<line x1="517.8" x2="588.2" y1="747.7" y2="747.7" stroke-dasharray="6 3"/>
</g>
<g fill="#ff7a00"><circle cx="545.6" cy="627.5" r="2.9"/><circle cx="558" cy="640.4" r="2.9"/><circle cx="547.2" cy="643.5" r="2.9"/><circle cx="548.2" cy="671.2" r="2.9"/><circle cx="557.6" cy="670.9" r="2.9"/><circle cx="553.7" cy="674.6" r="2.9"/><circle cx="551.1" cy="681.5" r="2.9"/><circle cx="541.7" cy="684.6" r="2.9"/><circle cx="545.1" cy="684.1" r="2.9"/><circle cx="562.2" cy="684.1" r="2.9"/><circle cx="558" cy="689.2" r="2.9"/><circle cx="564" cy="693.8" r="2.9"/><circle cx="540.5" cy="695.5" r="2.9"/><circle cx="546" cy="702" r="2.9"/><circle cx="557.4" cy="701.2" r="2.9"/><circle cx="542" cy="714" r="2.9"/><circle cx="549.4" cy="715.7" r="2.9"/><circle cx="558.5" cy="711.5" r="2.9"/><circle cx="547.7" cy="720" r="2.9"/><circle cx="561.4" cy="720" r="2.9"/><circle cx="536.5" cy="723.5" r="2.9"/><circle cx="546" cy="725.2" r="2.9"/><circle cx="552" cy="726.9" r="2.9"/><circle cx="563.1" cy="726.9" r="2.9"/><circle cx="538.3" cy="727.6" r="2.9"/><circle cx="545.1" cy="728.4" r="2.9"/><circle cx="550.3" cy="726.7" r="2.9"/><circle cx="563.1" cy="727.6" r="2.9"/><circle cx="546.8" cy="733.6" r="2.9"/><circle cx="560.5" cy="732.7" r="2.9"/><circle cx="545.1" cy="737" r="2.9"/><circle cx="549.4" cy="736.1" r="2.9"/><circle cx="558.8" cy="736.1" r="2.9"/><circle cx="553.7" cy="743" r="2.9"/><circle cx="541.7" cy="747.3" r="2.9"/><circle cx="558.8" cy="745.6" r="2.9"/><circle cx="540.8" cy="761" r="2.9"/><circle cx="558.8" cy="760.6" r="2.9"/><circle cx="545.1" cy="766.1" r="2.9"/><circle cx="550.3" cy="767" r="2.9"/><circle cx="555.4" cy="766.1" r="2.9"/><circle cx="539.1" cy="770.9" r="2.9"/><circle cx="547.7" cy="772.1" r="2.9"/><circle cx="548.5" cy="777.2" r="2.9"/><circle cx="554.5" cy="776.4" r="2.9"/><circle cx="558.8" cy="776.4" r="2.9"/><circle cx="547.7" cy="780.7" r="2.9"/><circle cx="552.8" cy="779.8" r="2.9"/><circle cx="541.7" cy="789.2" r="2.9"/><circle cx="547.7" cy="789.2" r="2.9"/><circle cx="561.4" cy="790.1" r="2.9"/><circle cx="540.8" cy="793.5" r="2.9"/><circle cx="544.3" cy="792.7" r="2.9"/><circle cx="560.5" cy="803.8" r="2.9"/><circle cx="548.2" cy="808.6" r="2.9"/><circle cx="543.4" cy="814.9" r="2.9"/><circle cx="549.4" cy="814.9" r="2.9"/><circle cx="555.4" cy="814.9" r="2.9"/><circle cx="552" cy="818.4" r="2.9"/><circle cx="556.2" cy="820.1" r="2.9"/><circle cx="550.3" cy="822.6" r="2.9"/><circle cx="546" cy="827.8" r="2.9"/><circle cx="558.5" cy="834.6" r="2.9"/><circle cx="548.2" cy="851.4" r="2.9"/><circle cx="555" cy="879.2" r="2.9"/><circle cx="546.3" cy="740.7" r="2.9"/><circle cx="546.3" cy="770.7" r="2.9"/><circle cx="544.8" cy="724.2" r="2.9"/><circle cx="563.4" cy="750.7" r="2.9"/><circle cx="560.4" cy="723.6" r="2.9"/><circle cx="561.9" cy="776.2" r="2.9"/><circle cx="546.8" cy="738.8" r="2.9"/><circle cx="552.7" cy="745.9" r="2.9"/><circle cx="541.6" cy="722.9" r="2.9"/></g>
<g stroke="#96241a" stroke-width="2.6" fill="none">
<path d="M695.8 616V694.1M695.8 756V842M689.3 616H702.3M689.3 842H702.3"/>
<rect x="660.6" y="694.1" width="70.4" height="61.9" fill="#dfc1b9"/>
<line x1="660.6" x2="731" y1="731.8" y2="731.8"/>
<line x1="660.6" x2="731" y1="723.5" y2="723.5" stroke-dasharray="6 3"/>
</g>
<g fill="#96241a"><circle cx="692.4" cy="573.2" r="2.9"/><circle cx="700.7" cy="601" r="2.9"/><circle cx="691.6" cy="615.9" r="2.9"/><circle cx="700.1" cy="616.4" r="2.9"/><circle cx="695.9" cy="624.1" r="2.9"/><circle cx="694.1" cy="631.8" r="2.9"/><circle cx="698.9" cy="635.6" r="2.9"/><circle cx="690.7" cy="654.4" r="2.9"/><circle cx="699.3" cy="672.6" r="2.9"/><circle cx="691.6" cy="678.9" r="2.9"/><circle cx="701" cy="681.5" r="2.9"/><circle cx="695" cy="686.6" r="2.9"/><circle cx="696.7" cy="690.9" r="2.9"/><circle cx="687.3" cy="694.3" r="2.9"/><circle cx="700.1" cy="694.3" r="2.9"/><circle cx="705.3" cy="695.2" r="2.9"/><circle cx="707" cy="696.9" r="2.9"/><circle cx="683.9" cy="703.4" r="2.9"/><circle cx="695.9" cy="704.6" r="2.9"/><circle cx="701" cy="702.9" r="2.9"/><circle cx="683" cy="710.6" r="2.9"/><circle cx="689.9" cy="708.9" r="2.9"/><circle cx="697.6" cy="710.6" r="2.9"/><circle cx="703.6" cy="711.5" r="2.9"/><circle cx="682.2" cy="715.7" r="2.9"/><circle cx="692.4" cy="715.7" r="2.9"/><circle cx="701" cy="714.9" r="2.9"/><circle cx="694.1" cy="720.9" r="2.9"/><circle cx="702.7" cy="720.9" r="2.9"/><circle cx="686.4" cy="725.2" r="2.9"/><circle cx="695.9" cy="726.9" r="2.9"/><circle cx="703.6" cy="726" r="2.9"/><circle cx="686.4" cy="725.9" r="2.9"/><circle cx="695.9" cy="726.7" r="2.9"/><circle cx="702.7" cy="727.6" r="2.9"/><circle cx="689.9" cy="732.7" r="2.9"/><circle cx="697.6" cy="733.6" r="2.9"/><circle cx="702.7" cy="735.3" r="2.9"/><circle cx="680.4" cy="740.4" r="2.9"/><circle cx="684.7" cy="741.3" r="2.9"/><circle cx="692.4" cy="742.1" r="2.9"/><circle cx="699.3" cy="741.3" r="2.9"/><circle cx="705.3" cy="740.4" r="2.9"/><circle cx="695" cy="746.4" r="2.9"/><circle cx="683.9" cy="750.7" r="2.9"/><circle cx="690.7" cy="752.4" r="2.9"/><circle cx="696.7" cy="751.6" r="2.9"/><circle cx="701.9" cy="753.3" r="2.9"/><circle cx="685.6" cy="759.3" r="2.9"/><circle cx="689.9" cy="758.4" r="2.9"/><circle cx="694.1" cy="756.7" r="2.9"/><circle cx="684.7" cy="761.8" r="2.9"/><circle cx="689.9" cy="761" r="2.9"/><circle cx="707" cy="761.8" r="2.9"/><circle cx="701.9" cy="768.7" r="2.9"/><circle cx="692.4" cy="771.3" r="2.9"/><circle cx="697.6" cy="770.4" r="2.9"/><circle cx="689" cy="774.7" r="2.9"/><circle cx="694.1" cy="774.7" r="2.9"/><circle cx="698.1" cy="785.3" r="2.9"/><circle cx="695" cy="791" r="2.9"/><circle cx="698.9" cy="793.5" r="2.9"/><circle cx="694.1" cy="798.7" r="2.9"/><circle cx="690.7" cy="804.1" r="2.9"/><circle cx="691.6" cy="816.6" r="2.9"/><circle cx="700.1" cy="814.9" r="2.9"/><circle cx="698.4" cy="842.3" r="2.9"/><circle cx="694.7" cy="705.9" r="2.9"/><circle cx="687.5" cy="740.4" r="2.9"/><circle cx="691.6" cy="725.1" r="2.9"/><circle cx="684.3" cy="749.5" r="2.9"/><circle cx="703.6" cy="699.4" r="2.9"/><circle cx="705.6" cy="748.6" r="2.9"/><circle cx="705" cy="705.4" r="2.9"/><circle cx="692.9" cy="741.5" r="2.9"/><circle cx="707.3" cy="716.1" r="2.9"/><circle cx="692.6" cy="742.3" r="2.9"/><circle cx="690.6" cy="696.8" r="2.9"/><circle cx="686.6" cy="751.3" r="2.9"/><circle cx="690.9" cy="728.5" r="2.9"/><circle cx="690" cy="738.7" r="2.9"/><circle cx="696.1" cy="701.9" r="2.9"/><circle cx="692.9" cy="754" r="2.9"/><circle cx="704.6" cy="724.1" r="2.9"/><circle cx="698.8" cy="753.1" r="2.9"/><circle cx="705.9" cy="714.7" r="2.9"/></g>
<text class="k" x="552.7" y="915.8" text-anchor="middle">Control</text>
<text class="k" x="695.5" y="915.8" text-anchor="middle">AD</text>
<line x1="543.3" x2="690" y1="553.4" y2="553.4" stroke="#000" stroke-width="2.2"/>
<text class="t" font-size="19.5" x="615.2" y="543" text-anchor="middle"><tspan font-style="italic">P</tspan>= 0.007</text>
<text class="t" font-size="23.5" transform="translate(439 849.2) rotate(-90)">Nomalized<tspan dx="-3.5"> expression level</tspan></text>
<text class="t" font-size="24.2" x="629.5" y="955.2" text-anchor="middle">CCL2</text>
</g>
<g>
<rect x="811" y="495" width="370" height="463" fill="#f9f9f9"/>
<line x1="875" x2="1165" y1="565" y2="565" stroke="#f4f4f4" stroke-width="1.2"/>
<line x1="875" x2="1165" y1="663" y2="663" stroke="#f4f4f4" stroke-width="1.2"/>
<line x1="875" x2="1165" y1="761.2" y2="761.2" stroke="#f4f4f4" stroke-width="1.2"/>
<line x1="875" x2="1165" y1="859.1" y2="859.1" stroke="#f4f4f4" stroke-width="1.2"/>
<text class="k y" x="872.2" y="571.7" text-anchor="end">8</text>
<text class="k y" x="872.2" y="669.7" text-anchor="end">7</text>
<text class="k y" x="872.2" y="767.9" text-anchor="end">6</text>
<text class="k y" x="872.2" y="865.8" text-anchor="end">5</text>
<g stroke="#ff7a00" stroke-width="2.6" fill="none">
<path d="M945.4 703.2V747.7M945.4 796.4V848.5M938.9 703.2H951.9M938.9 848.5H951.9"/>
<rect x="910.2" y="747.7" width="70.4" height="48.7" fill="#fdd88a"/>
<line x1="910.2" x2="980.6" y1="768.3" y2="768.3"/>
<line x1="910.2" x2="980.6" y1="770.9" y2="770.9" stroke-dasharray="6 3"/>
</g>
<g fill="#ff7a00"><circle cx="933.7" cy="702.9" r="2.9"/><circle cx="940.5" cy="703.8" r="2.9"/><circle cx="950.8" cy="704.1" r="2.9"/><circle cx="955.1" cy="703.4" r="2.9"/><circle cx="939.7" cy="710.6" r="2.9"/><circle cx="950.8" cy="711.5" r="2.9"/><circle cx="946.5" cy="716.6" r="2.9"/><circle cx="943.1" cy="720.9" r="2.9"/><circle cx="938.5" cy="725.7" r="2.9"/><circle cx="938.8" cy="725.9" r="2.9"/><circle cx="937.6" cy="737" r="2.9"/><circle cx="952.9" cy="736.6" r="2.9"/><circle cx="935.4" cy="743" r="2.9"/><circle cx="950.8" cy="742.1" r="2.9"/><circle cx="955.1" cy="743" r="2.9"/><circle cx="948.2" cy="745.6" r="2.9"/><circle cx="930.3" cy="757.5" r="2.9"/><circle cx="937.1" cy="753.3" r="2.9"/><circle cx="941.4" cy="758.4" r="2.9"/><circle cx="947.4" cy="754.1" r="2.9"/><circle cx="955.1" cy="756.7" r="2.9"/><circle cx="932.8" cy="761.8" r="2.9"/><circle cx="938.8" cy="762.7" r="2.9"/><circle cx="952.5" cy="761.8" r="2.9"/><circle cx="936.3" cy="768.7" r="2.9"/><circle cx="944" cy="767.8" r="2.9"/><circle cx="950.8" cy="768.7" r="2.9"/><circle cx="936.3" cy="775.5" r="2.9"/><circle cx="942.3" cy="776.4" r="2.9"/><circle cx="950.8" cy="777.2" r="2.9"/><circle cx="933.7" cy="785" r="2.9"/><circle cx="941.4" cy="785.8" r="2.9"/><circle cx="939.7" cy="790.1" r="2.9"/><circle cx="945.7" cy="790.1" r="2.9"/><circle cx="950.8" cy="791" r="2.9"/><circle cx="932.8" cy="794.4" r="2.9"/><circle cx="940.5" cy="794.4" r="2.9"/><circle cx="947.4" cy="793.5" r="2.9"/><circle cx="931.1" cy="799.5" r="2.9"/><circle cx="955.1" cy="800.4" r="2.9"/><circle cx="937.1" cy="803.8" r="2.9"/><circle cx="942.3" cy="804.7" r="2.9"/><circle cx="947.4" cy="804.7" r="2.9"/><circle cx="945.7" cy="814.1" r="2.9"/><circle cx="950" cy="820.1" r="2.9"/><circle cx="942.3" cy="828.6" r="2.9"/><circle cx="938.8" cy="833.8" r="2.9"/><circle cx="950.8" cy="834.3" r="2.9"/><circle cx="940.2" cy="838.1" r="2.9"/><circle cx="949.1" cy="848" r="2.9"/><circle cx="950.5" cy="749.6" r="2.9"/><circle cx="950.7" cy="781.1" r="2.9"/><circle cx="951.2" cy="760.7" r="2.9"/><circle cx="940.5" cy="770.6" r="2.9"/><circle cx="955.2" cy="751.1" r="2.9"/><circle cx="944.8" cy="778.3" r="2.9"/><circle cx="940.7" cy="762.4" r="2.9"/><circle cx="956.4" cy="776.1" r="2.9"/><circle cx="949" cy="754.3" r="2.9"/><circle cx="946.7" cy="779.6" r="2.9"/><circle cx="937.7" cy="751.7" r="2.9"/><circle cx="938.7" cy="792.9" r="2.9"/><circle cx="945.3" cy="752.8" r="2.9"/><circle cx="954.7" cy="795.3" r="2.9"/><circle cx="944.2" cy="751.3" r="2.9"/><circle cx="938.3" cy="771.7" r="2.9"/><circle cx="941.8" cy="750.4" r="2.9"/><circle cx="939.4" cy="776" r="2.9"/><circle cx="947" cy="765.2" r="2.9"/><circle cx="951.1" cy="780.1" r="2.9"/><circle cx="943.4" cy="758.4" r="2.9"/><circle cx="942.6" cy="778.1" r="2.9"/><circle cx="935.3" cy="753.9" r="2.9"/><circle cx="956.2" cy="772.6" r="2.9"/></g>
<g stroke="#96241a" stroke-width="2.6" fill="none">
<path d="M1089.3 647.2V709M1089.3 780V879.3M1082.8 647.2H1095.8M1082.8 879.3H1095.8"/>
<rect x="1054.1" y="709" width="70.4" height="71" fill="#dfc1b9"/>
<line x1="1054.1" x2="1124.5" y1="744.8" y2="744.8"/>
<line x1="1054.1" x2="1124.5" y1="744" y2="744" stroke-dasharray="6 3"/>
</g>
<g fill="#96241a"><circle cx="1086.1" cy="573.2" r="2.9"/><circle cx="1085.3" cy="649.8" r="2.9"/><circle cx="1093.9" cy="647.2" r="2.9"/><circle cx="1093.9" cy="672.9" r="2.9"/><circle cx="1089.2" cy="675.5" r="2.9"/><circle cx="1094.7" cy="678.1" r="2.9"/><circle cx="1083.6" cy="680.6" r="2.9"/><circle cx="1076.7" cy="684.9" r="2.9"/><circle cx="1095.6" cy="691.8" r="2.9"/><circle cx="1099" cy="691.8" r="2.9"/><circle cx="1081" cy="694.3" r="2.9"/><circle cx="1084.4" cy="696" r="2.9"/><circle cx="1096.4" cy="696" r="2.9"/><circle cx="1090.4" cy="697.8" r="2.9"/><circle cx="1079.3" cy="700.3" r="2.9"/><circle cx="1077.6" cy="709.8" r="2.9"/><circle cx="1099.9" cy="707.2" r="2.9"/><circle cx="1094.7" cy="711.5" r="2.9"/><circle cx="1101.6" cy="711.5" r="2.9"/><circle cx="1076.7" cy="717.5" r="2.9"/><circle cx="1081" cy="720" r="2.9"/><circle cx="1089.6" cy="718.3" r="2.9"/><circle cx="1095.6" cy="717.5" r="2.9"/><circle cx="1077.6" cy="723.5" r="2.9"/><circle cx="1084.4" cy="725.2" r="2.9"/><circle cx="1096.4" cy="721.7" r="2.9"/><circle cx="1099" cy="726" r="2.9"/><circle cx="1077.6" cy="726.7" r="2.9"/><circle cx="1086.1" cy="726.4" r="2.9"/><circle cx="1099" cy="727.1" r="2.9"/><circle cx="1075" cy="736.1" r="2.9"/><circle cx="1081.9" cy="737" r="2.9"/><circle cx="1087.9" cy="737" r="2.9"/><circle cx="1098.1" cy="738.7" r="2.9"/><circle cx="1077.6" cy="742.1" r="2.9"/><circle cx="1089.6" cy="742.1" r="2.9"/><circle cx="1100.7" cy="742.1" r="2.9"/><circle cx="1084.4" cy="746.4" r="2.9"/><circle cx="1096.4" cy="746.4" r="2.9"/><circle cx="1075" cy="750.7" r="2.9"/><circle cx="1080.2" cy="754.1" r="2.9"/><circle cx="1092.1" cy="751.6" r="2.9"/><circle cx="1099.9" cy="752.4" r="2.9"/><circle cx="1077.6" cy="756.7" r="2.9"/><circle cx="1088.7" cy="756.7" r="2.9"/><circle cx="1085.3" cy="761" r="2.9"/><circle cx="1095.6" cy="761" r="2.9"/><circle cx="1089.6" cy="767.8" r="2.9"/><circle cx="1078.4" cy="770.4" r="2.9"/><circle cx="1086.1" cy="772.1" r="2.9"/><circle cx="1094.7" cy="774.7" r="2.9"/><circle cx="1081.9" cy="776.4" r="2.9"/><circle cx="1075.9" cy="785.8" r="2.9"/><circle cx="1081" cy="784.1" r="2.9"/><circle cx="1084.4" cy="782.4" r="2.9"/><circle cx="1099.9" cy="783.2" r="2.9"/><circle cx="1078.4" cy="786.7" r="2.9"/><circle cx="1086.1" cy="800" r="2.9"/><circle cx="1097.3" cy="798.7" r="2.9"/><circle cx="1081.9" cy="805.5" r="2.9"/><circle cx="1091.3" cy="804.7" r="2.9"/><circle cx="1087.9" cy="808.9" r="2.9"/><circle cx="1092.1" cy="810.7" r="2.9"/><circle cx="1088.7" cy="812.4" r="2.9"/><circle cx="1084.4" cy="831.2" r="2.9"/><circle cx="1093.9" cy="829.5" r="2.9"/><circle cx="1094.7" cy="836.3" r="2.9"/><circle cx="1085.6" cy="861.5" r="2.9"/><circle cx="1093" cy="879.2" r="2.9"/><circle cx="1089.4" cy="731.3" r="2.9"/><circle cx="1097.6" cy="753" r="2.9"/><circle cx="1084" cy="718.4" r="2.9"/><circle cx="1087" cy="760.6" r="2.9"/><circle cx="1099.7" cy="738.7" r="2.9"/><circle cx="1097.9" cy="746.5" r="2.9"/><circle cx="1078.5" cy="734" r="2.9"/><circle cx="1098.4" cy="761.5" r="2.9"/><circle cx="1091.3" cy="710" r="2.9"/><circle cx="1086.8" cy="776.6" r="2.9"/><circle cx="1096.8" cy="738.9" r="2.9"/><circle cx="1100.2" cy="754" r="2.9"/><circle cx="1080.3" cy="715.2" r="2.9"/><circle cx="1089.8" cy="768.4" r="2.9"/><circle cx="1099.5" cy="734.4" r="2.9"/><circle cx="1092.7" cy="771.2" r="2.9"/><circle cx="1088.3" cy="728.6" r="2.9"/></g>
<text class="k" x="945.8" y="915.8" text-anchor="middle">Control</text>
<text class="k" x="1089.2" y="915.8" text-anchor="middle">AD</text>
<line x1="935.5" x2="1082.2" y1="553.4" y2="553.4" stroke="#000" stroke-width="2.2"/>
<text class="t" font-size="19.5" x="1009.2" y="543" text-anchor="middle"><tspan font-style="italic">P</tspan>= 0.002</text>
<text class="t" font-size="23.5" transform="translate(837.5 849.2) rotate(-90)">Nomalized<tspan dx="-3.5"> expression level</tspan></text>
<text class="t" font-size="24.2" x="1025.8" y="955.2" text-anchor="middle">BCL2</text>
</g>
<g>
<rect x="1211" y="495" width="324" height="463" fill="#f9f9f9"/>
<line x1="1268" x2="1535" y1="616" y2="616" stroke="#f4f4f4" stroke-width="1.2"/>
<line x1="1268" x2="1535" y1="678.4" y2="678.4" stroke="#f4f4f4" stroke-width="1.2"/>
<line x1="1268" x2="1535" y1="741" y2="741" stroke="#f4f4f4" stroke-width="1.2"/>
<line x1="1268" x2="1535" y1="803.7" y2="803.7" stroke="#f4f4f4" stroke-width="1.2"/>
<line x1="1268" x2="1535" y1="866.4" y2="866.4" stroke="#f4f4f4" stroke-width="1.2"/>
<text class="k y" x="1264.7" y="622.7" text-anchor="end">8</text>
<text class="k y" x="1264.7" y="685.1" text-anchor="end">7</text>
<text class="k y" x="1264.7" y="747.7" text-anchor="end">6</text>
<text class="k y" x="1264.7" y="810.4" text-anchor="end">5</text>
<text class="k y" x="1264.7" y="873.1" text-anchor="end">4</text>
<g stroke="#ff7a00" stroke-width="2.6" fill="none">
<path d="M1336.4 623.6V694.7M1336.4 752.8V827.8M1329.9 623.6H1342.9M1329.9 827.8H1342.9"/>
<rect x="1301.2" y="694.7" width="70.4" height="58.1" fill="#fdd88a"/>
<line x1="1301.2" x2="1371.6" y1="721" y2="721"/>
<line x1="1301.2" x2="1371.6" y1="723" y2="723" stroke-dasharray="6 3"/>
</g>
<g fill="#ff7a00"><circle cx="1332" cy="586.9" r="2.9"/><circle cx="1339.7" cy="624.6" r="2.9"/><circle cx="1335.4" cy="628" r="2.9"/><circle cx="1332.8" cy="632.7" r="2.9"/><circle cx="1339.7" cy="644.1" r="2.9"/><circle cx="1333.7" cy="660.9" r="2.9"/><circle cx="1336.3" cy="669.5" r="2.9"/><circle cx="1331.1" cy="675.5" r="2.9"/><circle cx="1341.7" cy="676" r="2.9"/><circle cx="1327.7" cy="684.9" r="2.9"/><circle cx="1340.5" cy="688" r="2.9"/><circle cx="1345.7" cy="688.7" r="2.9"/><circle cx="1324.3" cy="691.8" r="2.9"/><circle cx="1329.4" cy="695.2" r="2.9"/><circle cx="1339.7" cy="694.3" r="2.9"/><circle cx="1321.7" cy="702.9" r="2.9"/><circle cx="1328.5" cy="702" r="2.9"/><circle cx="1336.3" cy="700.3" r="2.9"/><circle cx="1347.4" cy="702" r="2.9"/><circle cx="1331.1" cy="707.2" r="2.9"/><circle cx="1344.8" cy="706.3" r="2.9"/><circle cx="1327.7" cy="712.3" r="2.9"/><circle cx="1339.7" cy="710.6" r="2.9"/><circle cx="1333.7" cy="716.6" r="2.9"/><circle cx="1338.8" cy="718.3" r="2.9"/><circle cx="1326.8" cy="726" r="2.9"/><circle cx="1332.8" cy="725.2" r="2.9"/><circle cx="1341.4" cy="725.2" r="2.9"/><circle cx="1326.8" cy="727.6" r="2.9"/><circle cx="1341.4" cy="726.4" r="2.9"/><circle cx="1332" cy="737.8" r="2.9"/><circle cx="1339.7" cy="738.4" r="2.9"/><circle cx="1336.3" cy="737" r="2.9"/><circle cx="1326" cy="744.7" r="2.9"/><circle cx="1331.1" cy="747.3" r="2.9"/><circle cx="1336.3" cy="748.1" r="2.9"/><circle cx="1341.4" cy="746.9" r="2.9"/><circle cx="1326.8" cy="750.7" r="2.9"/><circle cx="1346.5" cy="751.6" r="2.9"/><circle cx="1326.3" cy="763" r="2.9"/><circle cx="1333.7" cy="766.1" r="2.9"/><circle cx="1341" cy="765.8" r="2.9"/><circle cx="1331.1" cy="775" r="2.9"/><circle cx="1334.9" cy="777.2" r="2.9"/><circle cx="1336.8" cy="788.4" r="2.9"/><circle cx="1339.3" cy="800.4" r="2.9"/><circle cx="1334.9" cy="804.1" r="2.9"/><circle cx="1330.3" cy="806.9" r="2.9"/><circle cx="1341.4" cy="819.6" r="2.9"/><circle cx="1332" cy="823.5" r="2.9"/><circle cx="1339.7" cy="827.4" r="2.9"/><circle cx="1332" cy="826.9" r="2.9"/><circle cx="1325.8" cy="714.7" r="2.9"/><circle cx="1330.2" cy="749.4" r="2.9"/><circle cx="1339.7" cy="703.1" r="2.9"/><circle cx="1327.8" cy="729.5" r="2.9"/><circle cx="1339.5" cy="712.7" r="2.9"/><circle cx="1327.5" cy="724.1" r="2.9"/><circle cx="1337" cy="709.9" r="2.9"/><circle cx="1333.8" cy="728.7" r="2.9"/><circle cx="1338.7" cy="696" r="2.9"/><circle cx="1331.8" cy="735.7" r="2.9"/><circle cx="1347" cy="711.4" r="2.9"/><circle cx="1345.2" cy="736.2" r="2.9"/><circle cx="1330.3" cy="701.7" r="2.9"/><circle cx="1347" cy="743" r="2.9"/><circle cx="1332" cy="696.2" r="2.9"/><circle cx="1336.4" cy="742.1" r="2.9"/><circle cx="1334.6" cy="702" r="2.9"/><circle cx="1340.2" cy="749.6" r="2.9"/><circle cx="1330.1" cy="696.5" r="2.9"/><circle cx="1332.7" cy="734.5" r="2.9"/><circle cx="1340.6" cy="700.5" r="2.9"/><circle cx="1343.2" cy="744" r="2.9"/></g>
<g stroke="#96241a" stroke-width="2.6" fill="none">
<path d="M1475.9 595V668.9M1475.9 732.4V807.4M1469.4 595H1482.4M1469.4 807.4H1482.4"/>
<rect x="1440.7" y="668.9" width="70.4" height="63.5" fill="#dfc1b9"/>
<line x1="1440.7" x2="1511.1" y1="695.1" y2="695.1"/>
<line x1="1440.7" x2="1511.1" y1="703.6" y2="703.6" stroke-dasharray="6 3"/>
</g>
<g fill="#96241a"><circle cx="1472.8" cy="573.2" r="2.9"/><circle cx="1480.7" cy="595.5" r="2.9"/><circle cx="1471.6" cy="627" r="2.9"/><circle cx="1479.3" cy="637.8" r="2.9"/><circle cx="1475.9" cy="640.4" r="2.9"/><circle cx="1478.4" cy="642.9" r="2.9"/><circle cx="1465.6" cy="648.6" r="2.9"/><circle cx="1470.2" cy="647.6" r="2.9"/><circle cx="1483.6" cy="650.7" r="2.9"/><circle cx="1479.3" cy="654.9" r="2.9"/><circle cx="1468.2" cy="659.2" r="2.9"/><circle cx="1483.6" cy="659.7" r="2.9"/><circle cx="1471.6" cy="662.6" r="2.9"/><circle cx="1476.7" cy="664.4" r="2.9"/><circle cx="1464.7" cy="666.1" r="2.9"/><circle cx="1463" cy="670.4" r="2.9"/><circle cx="1469.9" cy="669.5" r="2.9"/><circle cx="1475.9" cy="672.1" r="2.9"/><circle cx="1481.9" cy="671.2" r="2.9"/><circle cx="1487.9" cy="669.5" r="2.9"/><circle cx="1493" cy="670.4" r="2.9"/><circle cx="1469" cy="673.8" r="2.9"/><circle cx="1465.6" cy="677.2" r="2.9"/><circle cx="1471.6" cy="687.5" r="2.9"/><circle cx="1483.6" cy="687" r="2.9"/><circle cx="1464.7" cy="692.6" r="2.9"/><circle cx="1474.2" cy="692.6" r="2.9"/><circle cx="1485.3" cy="693.5" r="2.9"/><circle cx="1469" cy="699.5" r="2.9"/><circle cx="1481" cy="698.6" r="2.9"/><circle cx="1465.6" cy="703.8" r="2.9"/><circle cx="1471.6" cy="705.5" r="2.9"/><circle cx="1481" cy="707.2" r="2.9"/><circle cx="1464.7" cy="711.5" r="2.9"/><circle cx="1479.3" cy="710.6" r="2.9"/><circle cx="1475" cy="715.7" r="2.9"/><circle cx="1481" cy="718.3" r="2.9"/><circle cx="1468.2" cy="720" r="2.9"/><circle cx="1474.2" cy="723.5" r="2.9"/><circle cx="1465.6" cy="724.3" r="2.9"/><circle cx="1476.7" cy="726.9" r="2.9"/><circle cx="1468.2" cy="726.7" r="2.9"/><circle cx="1474.2" cy="727.6" r="2.9"/><circle cx="1480.1" cy="728.4" r="2.9"/><circle cx="1466.4" cy="734.4" r="2.9"/><circle cx="1471.6" cy="733.6" r="2.9"/><circle cx="1484.9" cy="739" r="2.9"/><circle cx="1469.9" cy="740.4" r="2.9"/><circle cx="1466.4" cy="745.9" r="2.9"/><circle cx="1481.5" cy="747.6" r="2.9"/><circle cx="1469.9" cy="756.7" r="2.9"/><circle cx="1477.6" cy="756.2" r="2.9"/><circle cx="1474.2" cy="766.1" r="2.9"/><circle cx="1477.6" cy="767.8" r="2.9"/><circle cx="1475" cy="771.3" r="2.9"/><circle cx="1477.6" cy="775.5" r="2.9"/><circle cx="1472.4" cy="780.7" r="2.9"/><circle cx="1479.3" cy="807.6" r="2.9"/><circle cx="1473.3" cy="846.6" r="2.9"/><circle cx="1477.6" cy="879.2" r="2.9"/><circle cx="1476" cy="674.9" r="2.9"/><circle cx="1486.7" cy="707.1" r="2.9"/><circle cx="1483.3" cy="675.5" r="2.9"/><circle cx="1469.5" cy="722.9" r="2.9"/><circle cx="1471.2" cy="692.9" r="2.9"/><circle cx="1475.8" cy="702.7" r="2.9"/><circle cx="1469.5" cy="680" r="2.9"/><circle cx="1479.7" cy="729.6" r="2.9"/><circle cx="1467.8" cy="679.4" r="2.9"/><circle cx="1469.3" cy="730.5" r="2.9"/><circle cx="1467.7" cy="671.2" r="2.9"/><circle cx="1465.8" cy="710" r="2.9"/><circle cx="1485.1" cy="691.3" r="2.9"/><circle cx="1481.3" cy="731.3" r="2.9"/><circle cx="1485.8" cy="677.9" r="2.9"/><circle cx="1468.7" cy="729.1" r="2.9"/><circle cx="1481.6" cy="670.7" r="2.9"/><circle cx="1479.7" cy="709.5" r="2.9"/><circle cx="1473" cy="677.9" r="2.9"/><circle cx="1468.3" cy="696.2" r="2.9"/><circle cx="1470.8" cy="678.4" r="2.9"/><circle cx="1486.4" cy="700.5" r="2.9"/><circle cx="1486.6" cy="674.9" r="2.9"/><circle cx="1472.6" cy="725.1" r="2.9"/><circle cx="1483.3" cy="680.4" r="2.9"/><circle cx="1465.5" cy="712.8" r="2.9"/></g>
<text class="k" x="1336.2" y="915.8" text-anchor="middle">Control</text>
<text class="k" x="1475.6" y="915.8" text-anchor="middle">AD</text>
<line x1="1329.1" x2="1475.9" y1="553.4" y2="553.4" stroke="#000" stroke-width="2.2"/>
<text class="t" font-size="19.5" x="1403.1" y="543" text-anchor="middle"><tspan font-style="italic">P</tspan>= 0.045</text>
<text class="t" font-size="23.5" transform="translate(1237.5 849) rotate(-90)">Nomalized<tspan dx="-3.5"> expression level</tspan></text>
<text class="t" font-size="24.2" x="1434.5" y="955.2" text-anchor="middle">NFE2L2</text>
</g>
</svg></body></html>
